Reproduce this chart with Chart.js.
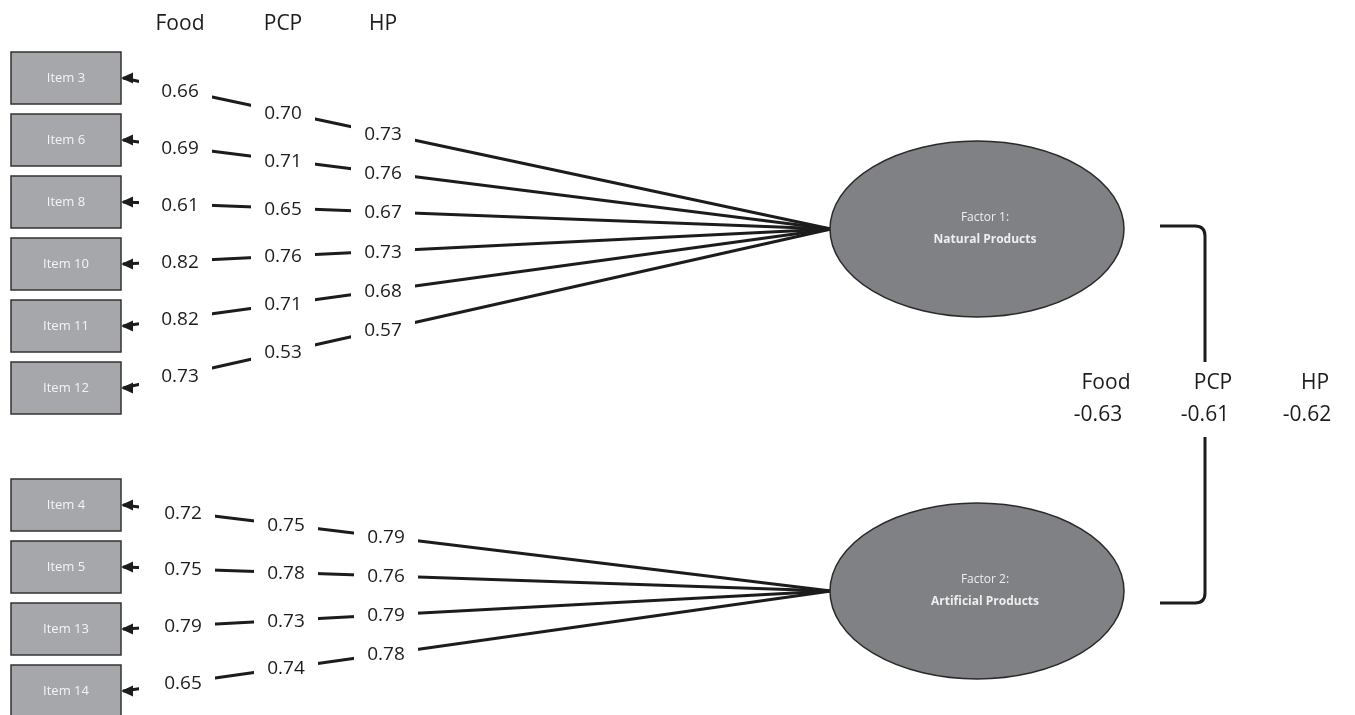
<!DOCTYPE html>
<html>
<head>
<meta charset="utf-8">
<script src="https://cdn.jsdelivr.net/npm/chart.js@4.4.1/dist/chart.umd.min.js"></script>
<style>
  html, body { margin: 0; background: #fff; }
  canvas { display: block; }
</style>
</head>
<body>
<canvas id="cfa" width="1355" height="715"></canvas>
<script>
// loadings per product group
const groups = ["Food", "PCP", "HP"];
const natItems = ["Item 3", "Item 6", "Item 8", "Item 10", "Item 11", "Item 12"];
const natFood = [0.66, 0.69, 0.61, 0.82, 0.82, 0.73];
const natPCP = [0.70, 0.71, 0.65, 0.76, 0.71, 0.53];
const natHP = [0.73, 0.76, 0.67, 0.73, 0.68, 0.57];
const artItems = ["Item 4", "Item 5", "Item 13", "Item 14"];
const artFood = [0.72, 0.75, 0.79, 0.65];
const artPCP = [0.75, 0.78, 0.73, 0.74];
const artHP = [0.79, 0.76, 0.79, 0.78];
const factorNames = ["Factor 1:", "Factor 2:"];
const factorLabels = ["Natural Products", "Artificial Products"];
const corr = [-0.63, -0.61, -0.62];

// layout (diagram units = pixels)
const ROW_STEP = 62;
const ARROW_X = 123, FACTOR_X = 831;
const blocks = [
  { items: natItems, vals: [natFood, natPCP, natHP], top: 78, fy: 229, colX: [180, 283, 383] },
  { items: artItems, vals: [artFood, artPCP, artHP], top: 505, fy: 591, colX: [183, 286, 386] }
];
const FONT = "'Open Sans', Lato, sans-serif";

const datasets = [];
blocks.forEach(b => {
  b.items.forEach((name, i) => {
    datasets.push({
      label: name,
      data: [{ x: ARROW_X, y: b.top + i * ROW_STEP }, { x: FACTOR_X, y: b.fy }],
      borderColor: "#1c1c1c",
      borderWidth: 3,
      pointRadius: 0,
      tension: 0
    });
  });
});

const diagram = {
  id: "diagram",
  afterDatasetsDraw(chart) {
    const { ctx, scales } = chart;
    const px = v => scales.x.getPixelForValue(v);
    const py = v => scales.y.getPixelForValue(v);
    ctx.save();
    ctx.textAlign = "center";
    ctx.textBaseline = "middle";

    // column headers
    ctx.fillStyle = "#1c1c1c";
    ctx.font = "21px " + FONT;
    groups.forEach((g, k) => ctx.fillText(g, px(blocks[0].colX[k]), py(24)));

    blocks.forEach((b, bi) => {
      b.items.forEach((name, i) => {
        const ry = b.top + i * ROW_STEP;
        // loading labels sitting on the path
        b.vals.forEach((arr, k) => {
          const cx = b.colX[k];
          const t = (cx - ARROW_X) / (FACTOR_X - ARROW_X);
          const ly = ry + t * (b.fy - ry);
          const left = k === 0 ? px(139) : px(cx) - 32;
          ctx.fillStyle = "#fff";
          ctx.fillRect(left, py(ly) - 15, px(cx) + 32 - left, 30);
          ctx.fillStyle = "#1c1c1c";
          ctx.font = "19px " + FONT;
          ctx.fillText(arr[i].toFixed(2), px(cx), py(ly) + 1);
        });
        // arrow head
        ctx.fillStyle = "#1c1c1c";
        ctx.beginPath();
        ctx.moveTo(px(121), py(ry));
        ctx.lineTo(px(133), py(ry) - 5.5);
        ctx.lineTo(px(133), py(ry) + 5.5);
        ctx.closePath();
        ctx.fill();
        // item box
        ctx.fillStyle = "#a6a7ab";
        ctx.strokeStyle = "#333";
        ctx.lineWidth = 1.5;
        ctx.fillRect(px(11), py(ry - 26), 110, 52);
        ctx.strokeRect(px(11), py(ry - 26), 110, 52);
        ctx.fillStyle = "#f4f4f4";
        ctx.font = "13px " + FONT;
        ctx.fillText(name, px(66), py(ry));
      });
      // factor ellipse
      ctx.beginPath();
      ctx.ellipse(px(977), py(b.fy), 147, 88, 0, 0, Math.PI * 2);
      ctx.fillStyle = "#808185";
      ctx.fill();
      ctx.strokeStyle = "#2a2a2a";
      ctx.lineWidth = 1.5;
      ctx.stroke();
      ctx.fillStyle = "#eeeeee";
      ctx.font = "12px " + FONT;
      ctx.fillText(factorNames[bi], px(985), py(b.fy - 11));
      ctx.font = "bold 12px " + FONT;
      ctx.fillText(factorLabels[bi], px(985), py(b.fy + 11));
    });

    // correlation bracket
    ctx.strokeStyle = "#1c1c1c";
    ctx.lineWidth = 3;
    ctx.beginPath();
    ctx.moveTo(px(1160), py(226));
    ctx.lineTo(px(1195), py(226));
    ctx.quadraticCurveTo(px(1205), py(226), px(1205), py(236));
    ctx.lineTo(px(1205), py(362));
    ctx.moveTo(px(1205), py(437));
    ctx.lineTo(px(1205), py(593));
    ctx.quadraticCurveTo(px(1205), py(603), px(1195), py(603));
    ctx.lineTo(px(1160), py(603));
    ctx.stroke();

    const corrX = [1098, 1205, 1307];
    ctx.fillStyle = "#1c1c1c";
    ctx.font = "21px " + FONT;
    groups.forEach((g, k) => {
      ctx.fillText(g, px(corrX[k] + 8), py(383));
      ctx.fillText(corr[k].toFixed(2), px(corrX[k]), py(415));
    });
    ctx.restore();
  }
};

new Chart(document.getElementById("cfa"), {
  type: "line",
  data: { datasets: datasets },
  options: {
    responsive: false,
    animation: false,
    layout: { padding: 0 },
    plugins: { legend: { display: false }, tooltip: { enabled: false } },
    scales: {
      x: { type: "linear", min: 0, max: 1355, display: false },
      y: { type: "linear", min: 0, max: 715, reverse: true, display: false }
    }
  },
  plugins: [diagram]
});
</script>
</body>
</html>
